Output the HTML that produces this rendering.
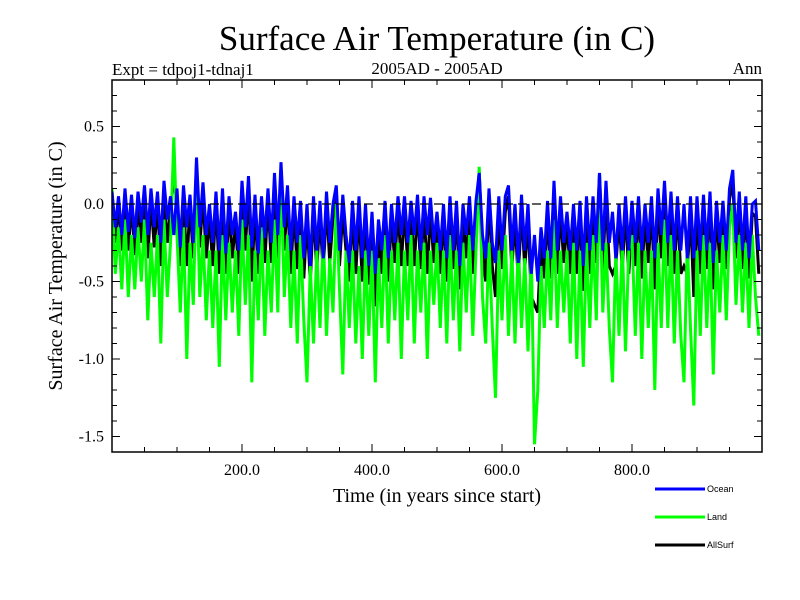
<!DOCTYPE html>
<html><head><meta charset="utf-8"><style>
body{margin:0;background:#fff;}
svg{display:block;font-family:"Liberation Serif",serif;}
</style></head><body>
<svg id="chart" width="800" height="600" xmlns="http://www.w3.org/2000/svg">
<rect width="800" height="600" fill="#fff"/>
<text x="437" y="50" text-anchor="middle" font-size="35">Surface Air Temperature (in C)</text>
<text x="112" y="75" font-size="17">Expt = tdpoj1-tdnaj1</text>
<text x="437" y="74" text-anchor="middle" font-size="17">2005AD - 2005AD</text>
<text x="762" y="74" text-anchor="end" font-size="17">Ann</text>
<text transform="translate(62,266) rotate(-90)" text-anchor="middle" font-size="20">Surface Air Temperature (in C)</text>
<text x="437" y="502" text-anchor="middle" font-size="20">Time (in years since start)</text>
<g id="plot"></g>
<g id="legend">
<line x1="655" y1="489" x2="705" y2="489" stroke="#0000ff" stroke-width="3"/>
<text x="707" y="492" font-family="Liberation Sans,sans-serif" font-size="9">Ocean</text>
<line x1="655" y1="517" x2="705" y2="517" stroke="#00ff00" stroke-width="3"/>
<text x="707" y="520" font-family="Liberation Sans,sans-serif" font-size="9">Land</text>
<line x1="655" y1="545" x2="705" y2="545" stroke="#000" stroke-width="3"/>
<text x="707" y="548" font-family="Liberation Sans,sans-serif" font-size="9">AllSurf</text>
</g>
</svg>
<script>
const years = Array.from({length:200},(_, i)=>i*5);
const ocean = [0.08,-0.15,0.05,-0.2,0.1,-0.18,0.06,-0.22,0.08,-0.12,
0.12,-0.2,0.1,-0.15,0.08,-0.25,0.15,-0.1,0.05,-0.2,
0.1,-0.28,0.12,-0.15,0.06,-0.25,0.3,-0.15,0.14,-0.2,
0.0,-0.25,0.08,-0.3,0.1,-0.32,0.05,-0.2,-0.05,-0.3,
0.15,-0.15,0.18,-0.28,0.06,-0.32,0.05,-0.22,0.1,-0.25,
0.2,-0.2,0.27,-0.15,0.12,-0.3,0.05,-0.25,0.02,-0.35,
0.0,-0.4,0.05,-0.3,0.02,-0.35,0.08,-0.25,0.0,0.12,
-0.3,0.06,-0.2,-0.38,0.02,-0.3,0.05,-0.35,0.0,-0.4,
-0.05,-0.45,-0.1,-0.3,0.02,-0.35,0.0,-0.25,0.05,-0.2,
0.05,-0.25,0.02,-0.2,0.06,-0.3,0.05,-0.2,0.04,-0.25,
-0.05,-0.3,0.0,-0.35,0.05,-0.3,0.02,-0.4,0.0,-0.2,
0.05,-0.3,0.02,0.2,-0.2,-0.35,0.1,-0.25,-0.38,0.05,
-0.3,0.05,0.12,-0.3,0.0,-0.38,0.06,-0.3,0.0,-0.45,
-0.2,-0.5,-0.15,-0.35,0.02,-0.35,0.15,-0.3,0.05,-0.25,
-0.05,-0.3,0.0,-0.3,0.02,-0.4,0.05,-0.3,0.05,-0.25,
0.2,-0.3,0.15,-0.25,-0.05,-0.35,0.0,-0.3,0.05,-0.3,
0.02,-0.25,0.05,-0.3,0.0,-0.25,0.05,-0.35,0.1,-0.2,
0.15,-0.25,0.08,-0.3,0.05,-0.3,0.0,-0.35,0.05,-0.35,
0.05,-0.3,0.06,-0.3,0.08,-0.38,0.02,-0.25,0.02,-0.3,
0.1,0.22,-0.25,0.08,-0.3,0.05,-0.35,0.0,0.02,-0.3];
const land = [0.1,-0.45,-0.15,-0.55,-0.1,-0.6,-0.2,-0.55,-0.15,-0.5,
-0.1,-0.75,-0.25,-0.6,-0.2,-0.9,-0.1,-0.6,-0.25,0.43,
-0.2,-0.7,-0.15,-1.0,-0.25,-0.65,0.2,-0.6,-0.2,-0.75,
-0.3,-0.8,-0.3,-1.05,-0.2,-0.75,-0.25,-0.7,-0.3,-0.85,
-0.1,-0.65,-0.2,-1.15,-0.3,-0.75,-0.15,-0.85,-0.3,-0.7,
-0.1,-0.7,0.2,-0.6,-0.2,-0.8,-0.3,-0.9,-0.2,-0.75,
-1.15,-0.4,-0.9,-0.3,-0.8,-0.2,-0.85,-0.35,-0.7,0.0,
-0.55,-1.1,-0.3,-0.8,-0.3,-0.9,-0.4,-1.0,-0.3,-0.85,
-0.3,-1.15,-0.35,-0.8,-0.2,-0.9,-0.3,-0.75,-0.25,-1.0,
-0.3,-0.75,-0.2,-0.9,-0.3,-0.7,-0.25,-1.0,-0.3,-0.65,
-0.25,-0.8,-0.3,-0.9,-0.2,-0.75,-0.3,-0.95,-0.25,-0.7,
-0.2,-0.85,-0.3,0.24,-0.6,-0.9,-0.25,-0.8,-1.25,-0.3,
-0.75,-0.2,-0.85,-0.3,-0.9,-0.25,-0.8,-0.35,-0.95,-0.3,
-1.55,-1.2,-0.4,-0.8,-0.3,-0.75,-0.1,-0.8,-0.3,-0.7,
-0.3,-0.9,-0.25,-1.0,-0.3,-1.05,-0.25,-0.8,-0.2,-0.75,
0.2,-0.7,-0.25,-0.8,-1.15,-0.3,-0.85,-0.25,-0.95,-0.3,
-0.2,-0.85,-0.25,-1.0,-0.3,-0.8,-0.3,-1.2,-0.25,-0.8,
-0.1,-0.8,-0.2,-0.9,-0.3,-0.85,-1.15,-0.25,-0.8,-1.3,
-0.3,-0.85,-0.2,-0.8,-0.25,-1.1,-0.3,-0.7,-0.2,-0.75,
-0.15,0.0,-0.65,-0.2,-0.7,-0.25,-0.8,-0.2,-0.6,-0.85];
const allsurf = [0.05,-0.25,0.0,-0.3,0.03,-0.3,0.0,-0.33,0.0,-0.25,
0.05,-0.35,0.02,-0.28,0.0,-0.4,0.05,-0.25,-0.02,0.15,
0.02,-0.4,0.05,-0.4,0.0,-0.35,0.26,-0.28,0.05,-0.35,
-0.08,-0.4,0.0,-0.45,0.02,-0.45,-0.03,-0.35,-0.12,-0.45,
0.08,-0.3,0.1,-0.5,-0.02,-0.45,-0.03,-0.38,0.02,-0.38,
0.12,-0.35,0.23,-0.3,0.05,-0.45,-0.03,-0.42,-0.05,-0.48,
-0.1,-0.5,-0.05,-0.42,-0.08,-0.45,0.0,-0.38,-0.08,0.08,
-0.4,-0.05,-0.3,-0.5,-0.06,-0.45,-0.05,-0.5,-0.08,-0.52,
-0.12,-0.66,-0.18,-0.45,-0.05,-0.5,-0.08,-0.38,-0.03,-0.4,
-0.03,-0.4,-0.05,-0.4,-0.02,-0.42,-0.03,-0.45,-0.04,-0.38,
-0.12,-0.45,-0.08,-0.5,-0.03,-0.42,-0.06,-0.55,-0.08,-0.35,
-0.03,-0.45,-0.06,0.21,-0.3,-0.5,0.02,-0.4,-0.6,-0.05,
-0.42,-0.05,0.05,-0.42,-0.1,-0.5,-0.03,-0.42,-0.1,-0.6,
-0.65,-0.7,-0.25,-0.48,-0.06,-0.48,0.08,-0.45,-0.05,-0.38,
-0.12,-0.45,-0.08,-0.45,-0.06,-0.56,-0.04,-0.45,-0.03,-0.38,
0.2,-0.42,0.05,-0.4,-0.45,-0.4,-0.1,-0.42,-0.05,-0.45,
-0.05,-0.4,-0.03,-0.48,-0.08,-0.38,-0.03,-0.55,0.02,-0.35,
0.07,-0.4,0.0,-0.45,-0.03,-0.45,-0.4,-0.45,-0.05,-0.6,
-0.04,-0.45,-0.02,-0.42,0.0,-0.55,-0.06,-0.38,-0.05,-0.42,
0.03,0.15,-0.35,0.0,-0.42,-0.03,-0.48,-0.06,-0.08,-0.45];
const xTicks = [200,400,600,800];
const xTickLabels = ["200.0","400.0","600.0","800.0"];
const yTicks = [0.5,0.0,-0.5,-1.0,-1.5];
const yTickLabels = ["0.5","0.0","-0.5","-1.0","-1.5"];

const L=112,R=762,T=80,B=452, XMIN=0,XMAX=1000,YMIN=-1.6,YMAX=0.8;
const sx=v=>L+(v-XMIN)/(XMAX-XMIN)*(R-L);
const sy=v=>B-(v-YMIN)/(YMAX-YMIN)*(B-T);
const NS="http://www.w3.org/2000/svg";
const g=document.getElementById('plot');
function mk(tag,attrs){const e=document.createElementNS(NS,tag);for(const k in attrs)e.setAttribute(k,attrs[k]);g.appendChild(e);return e;}

const defs=mk('defs',{});
const cp=document.createElementNS(NS,'clipPath');cp.setAttribute('id','clip');
const cr=document.createElementNS(NS,'rect');cr.setAttribute('x',L);cr.setAttribute('y',T);cr.setAttribute('width',R-L);cr.setAttribute('height',B-T);
cp.appendChild(cr);defs.appendChild(cp);

function series(vals,color,name){
  const d=vals.map((v,i)=>(i?'L':'M')+sx(years[i]).toFixed(1)+' '+sy(v).toFixed(1)).join(' ');
  const p=mk('path',{d:d,fill:'none',stroke:color,'stroke-width':3,'stroke-linejoin':'miter','stroke-miterlimit':3,'clip-path':'url(#clip)'});
  
  
}
series(allsurf,'#000','allsurf-line');
series(land,'#00ff00','land-line');
series(ocean,'#0000ff','ocean-line');

const z=mk('line',{x1:L,x2:R,y1:sy(0),y2:sy(0),stroke:'#000','stroke-width':1.2,'stroke-dasharray':'9,5'});



const fr=mk('rect',{x:L,y:T,width:R-L,height:B-T,fill:'none',stroke:'#000','stroke-width':1.5});



for(let v=50;v<XMAX;v+=50){
  const len=(v%200===0)?8:5;
  mk('line',{x1:sx(v),x2:sx(v),y1:B,y2:B-len,stroke:'#000','stroke-width':1});
  mk('line',{x1:sx(v),x2:sx(v),y1:T,y2:T+len,stroke:'#000','stroke-width':1});
}
for(let k=-15;k<=7;k++){
  const v=k/10; const len=(k%5===0)?8:5;
  mk('line',{x1:L,x2:L+len,y1:sy(v),y2:sy(v),stroke:'#000','stroke-width':1});
  mk('line',{x1:R,x2:R-len,y1:sy(v),y2:sy(v),stroke:'#000','stroke-width':1});
}
xTicks.forEach((v,i)=>{
  const t=mk('text',{x:sx(v),y:B+23,'text-anchor':'middle','font-size':16});
  t.textContent=xTickLabels[i];
  
  
});
yTicks.forEach((v,i)=>{
  const t=mk('text',{x:L-8,y:sy(v)+5,'text-anchor':'end','font-size':16});
  t.textContent=yTickLabels[i];
  
  
});
</script>
</body></html>
